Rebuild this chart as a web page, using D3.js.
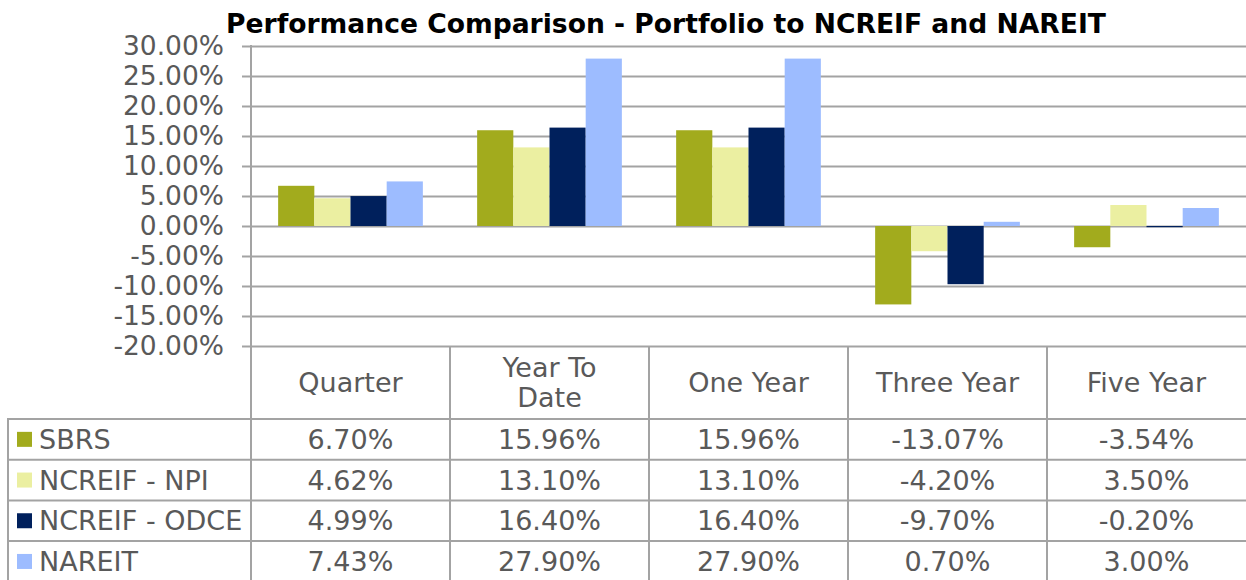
<!DOCTYPE html>
<html>
<head>
<meta charset="utf-8">
<script src="https://cdn.jsdelivr.net/npm/d3@7"></script>
<style>
  html, body { margin: 0; padding: 0; background: #fff; }
  svg { display: block; font-family: "DejaVu Sans", Verdana, sans-serif; }
</style>
</head>
<body>
<svg id="chart" width="1246" height="580"></svg>
<script>
// ---- data ----
const titleText = "Performance Comparison - Portfolio to NCREIF and NAREIT";
const categories = ["Quarter", "Year To Date", "One Year", "Three Year", "Five Year"];
const seriesNames = ["SBRS", "NCREIF - NPI", "NCREIF - ODCE", "NAREIT"];
const sbrs   = [6.70, 15.96, 15.96, -13.07, -3.54];
const npi    = [4.62, 13.10, 13.10, -4.20, 3.50];
const odce   = [4.99, 16.40, 16.40, -9.70, -0.20];
const nareit = [7.43, 27.90, 27.90, 0.70, 3.00];
const yTicks = [-20, -15, -10, -5, 0, 5, 10, 15, 20, 25, 30];
const seriesColors = ["#a2ab1d", "#ebefa1", "#00205c", "#9dbcff"];

const seriesValues = [sbrs, npi, odce, nareit];
const series = seriesNames.map((n, i) => ({ name: n, values: seriesValues[i], color: seriesColors[i] }));

// ---- layout ----
const W = 1246, H = 580;
const plotL = 251, plotR = 1246, plotT = 46, plotB = 346;
const tableL = 8, headerB = 419, rowH = 40.7;
const lineColor = "#a3a3a3";
const textColor = "#595959";

const loc = d3.formatLocale({ decimal: ".", thousands: ",", grouping: [3], currency: ["", ""], minus: "-" });
const pct = d => loc.format(".2f")(d) + "%";

const svg = d3.select("#chart");

const x = d3.scaleBand().domain(categories).range([plotL, plotR]).paddingInner(0).paddingOuter(0);
const xs = d3.scaleBand().domain(seriesNames).range([0, x.bandwidth()]).paddingInner(0).paddingOuter(0.75);
const y = d3.scaleLinear().domain([d3.min(yTicks), d3.max(yTicks)]).range([plotB, plotT]);

// title
const title = svg.append("text")
  .attr("x", 666).attr("y", 33)
  .attr("text-anchor", "middle")
  .attr("font-weight", "bold")
  .attr("font-size", 24)
  .attr("fill", "#000")
  .text(titleText);
{
  const w = title.node().getComputedTextLength();
  title.attr("font-size", 24 * 880 / w);
}

// y axis with gridlines
const yAxis = d3.axisLeft(y)
  .tickValues(yTicks)
  .tickSize(9)
  .tickPadding(18)
  .tickFormat(pct);

const gAxis = svg.append("g").attr("transform", `translate(${plotL},0)`).call(yAxis);
gAxis.select(".domain").remove();
gAxis.selectAll(".tick line")
  .attr("x1", -9).attr("x2", plotR - plotL)
  .attr("stroke", lineColor).attr("stroke-width", 2);
gAxis.selectAll(".tick text")
  .attr("fill", textColor)
  .attr("font-size", 26.5)
  .attr("font-family", "DejaVu Sans, Verdana, sans-serif");

// bars
const gBars = svg.append("g");
series.forEach(s => {
  gBars.selectAll(null)
    .data(categories.map((c, i) => ({ c, v: s.values[i] })))
    .join("rect")
    .attr("x", d => x(d.c) + xs(s.name))
    .attr("width", xs.bandwidth())
    .attr("y", d => y(Math.max(0, d.v)))
    .attr("height", d => Math.abs(y(d.v) - y(0)))
    .attr("fill", s.color);
});

// table lines
const nRows = series.length;
const tableB = headerB + nRows * rowH;
const gTable = svg.append("g").attr("stroke", lineColor).attr("stroke-width", 2);
gTable.append("line").attr("x1", plotL).attr("x2", plotL).attr("y1", y(d3.max(yTicks)) - 1).attr("y2", tableB + 2);
categories.forEach((c, i) => {
  if (i === 0) return;
  gTable.append("line").attr("x1", x(c)).attr("x2", x(c)).attr("y1", plotB).attr("y2", tableB + 2);
});
gTable.append("line").attr("x1", tableL).attr("x2", tableL).attr("y1", headerB - 1).attr("y2", tableB + 2);
d3.range(nRows + 1).forEach(r => {
  gTable.append("line").attr("x1", tableL - 1).attr("x2", plotR).attr("y1", headerB + r * rowH).attr("y2", headerB + r * rowH);
});

// header labels with wrapping
const fontTbl = 27;
const gHead = svg.append("g").attr("fill", textColor).attr("font-size", fontTbl).attr("text-anchor", "middle");
categories.forEach(c => {
  const cx = x(c) + x.bandwidth() / 2;
  const t = gHead.append("text").attr("x", cx).text(c);
  const maxW = x.bandwidth() - 40;
  let lines = [c];
  if (t.node().getComputedTextLength() > maxW) {
    const words = c.split(" ");
    lines = [];
    let cur = [];
    words.forEach(wd => {
      cur.push(wd);
      t.text(cur.join(" "));
      if (t.node().getComputedTextLength() > maxW && cur.length > 1) {
        cur.pop();
        lines.push(cur.join(" "));
        cur = [wd];
      }
    });
    lines.push(cur.join(" "));
  }
  t.text(null);
  const cy = (plotB + headerB) / 2 + 9.5;
  const lh = 30;
  lines.forEach((ln, k) => {
    t.append("tspan").attr("x", cx).attr("y", cy + (k - (lines.length - 1) / 2) * lh).text(ln);
  });
});

// table rows: legend + values
const gRows = svg.append("g").attr("font-size", fontTbl).attr("fill", textColor);
series.forEach((s, r) => {
  const cyRow = headerB + r * rowH + rowH / 2;
  gRows.append("rect").attr("x", 17).attr("y", cyRow - 7.5).attr("width", 15).attr("height", 15).attr("fill", s.color);
  gRows.append("text").attr("x", 39).attr("y", cyRow + 9.5).text(s.name);
  categories.forEach((c, i) => {
    gRows.append("text")
      .attr("x", x(c) + x.bandwidth() / 2)
      .attr("y", cyRow + 9.5)
      .attr("text-anchor", "middle")
      .text(pct(s.values[i]));
  });
});
</script>
</body>
</html>
